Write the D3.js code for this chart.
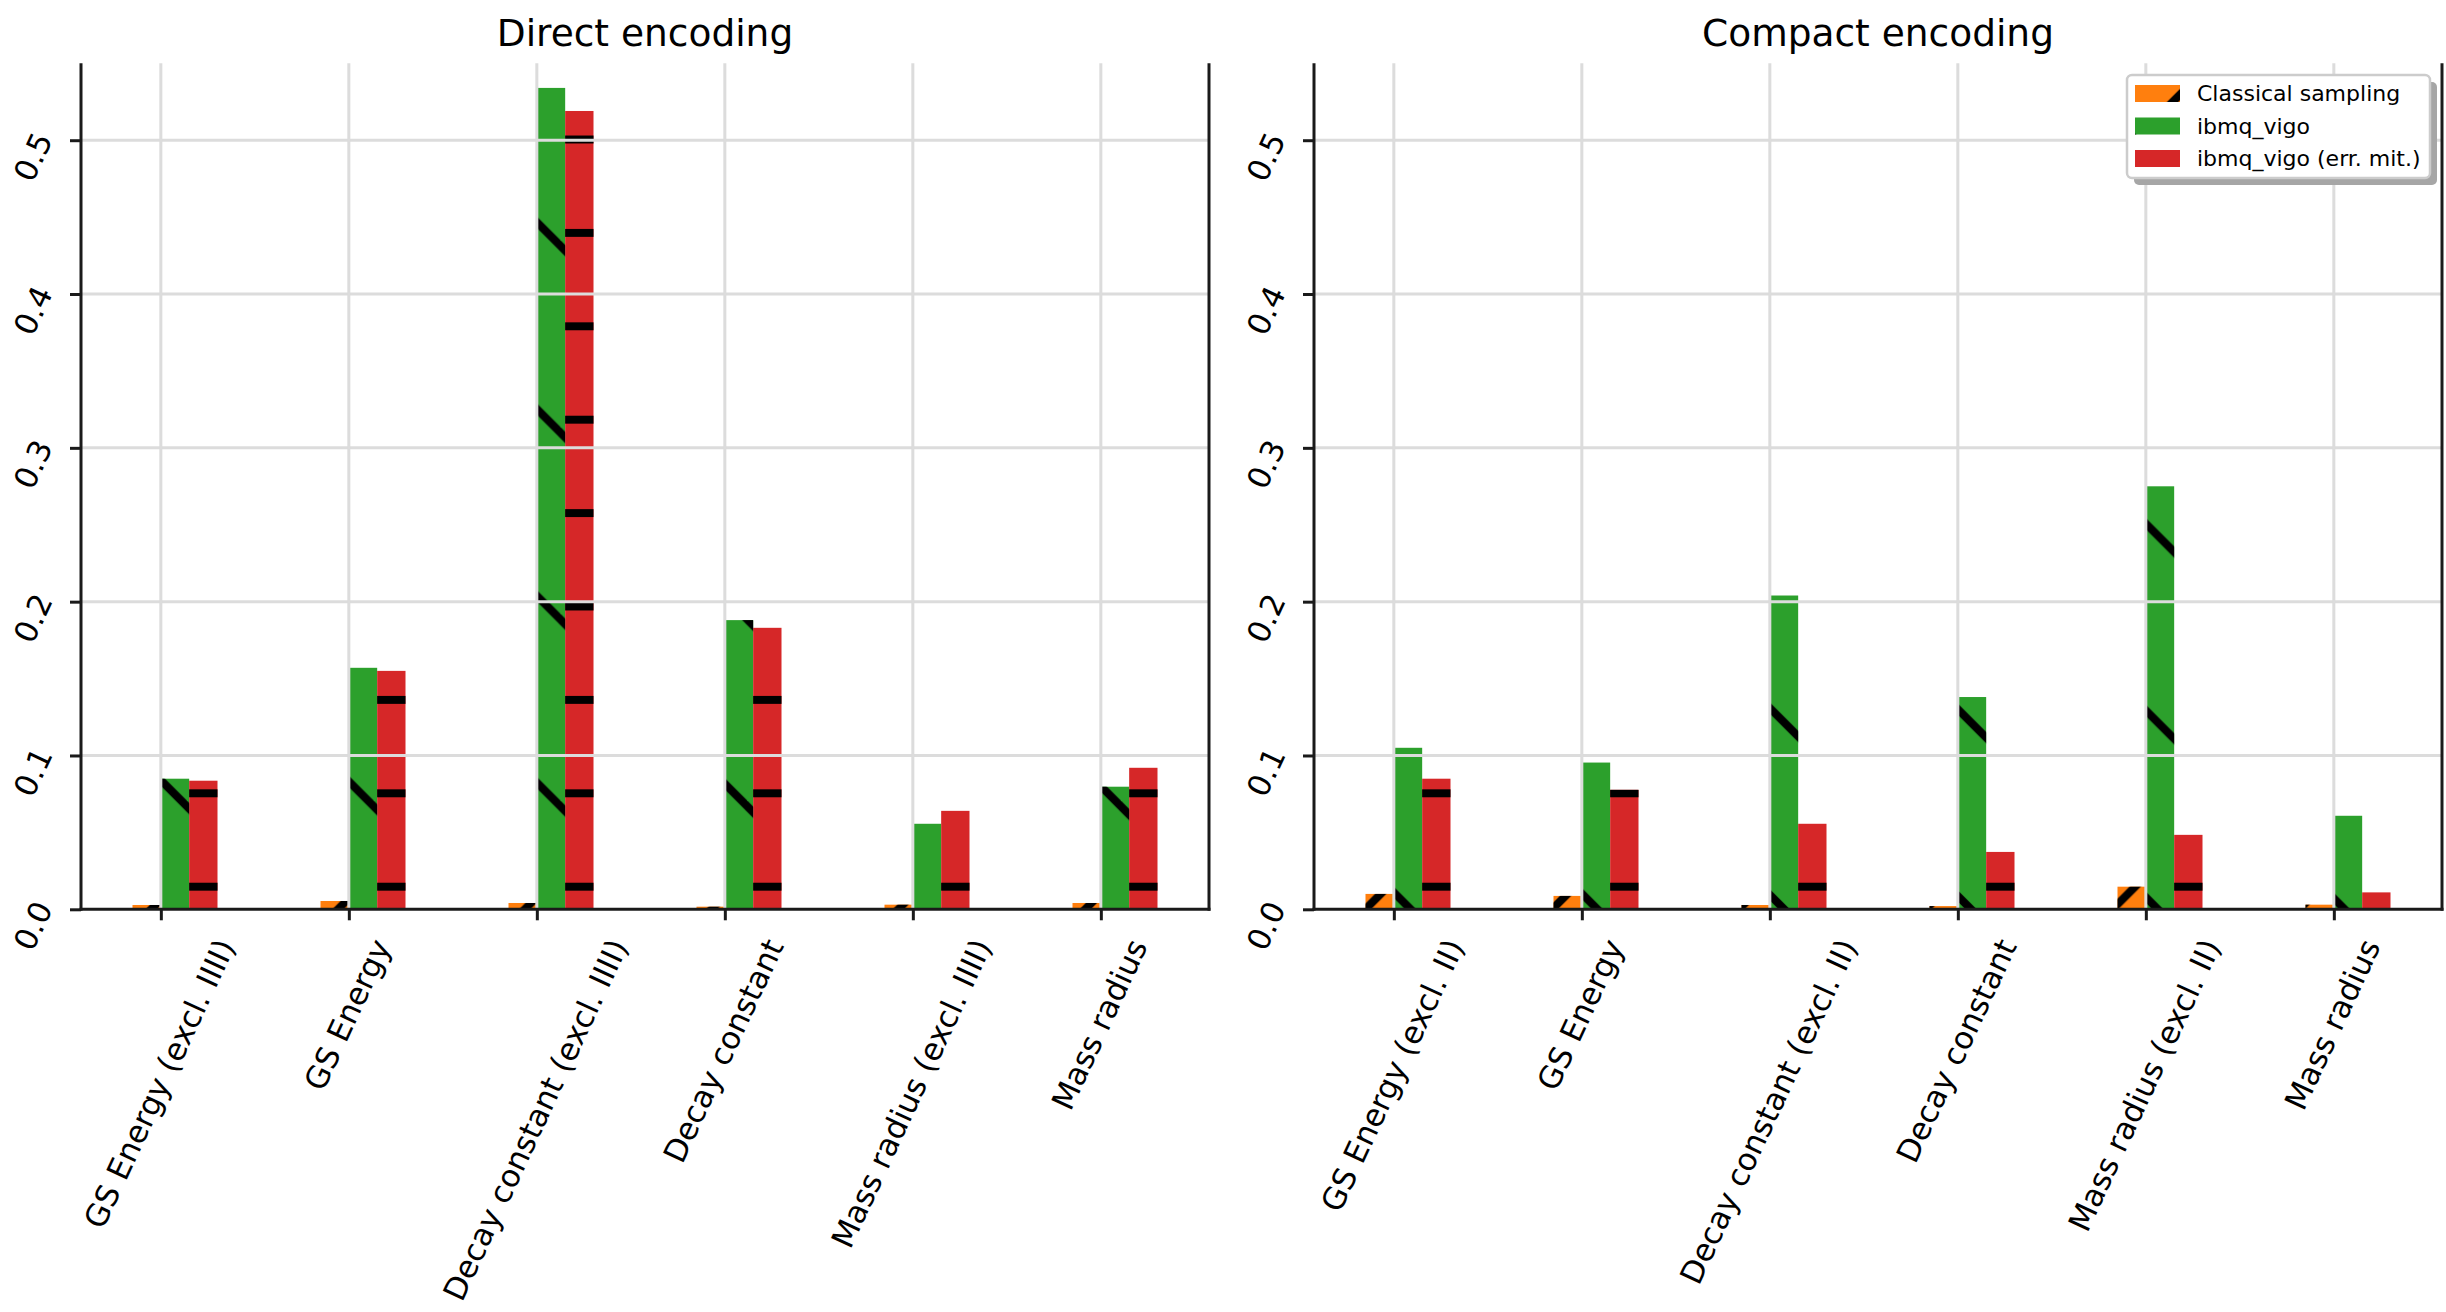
<!DOCTYPE html>
<html>
<head>
<meta charset="utf-8">
<script src="https://cdn.jsdelivr.net/npm/d3@7"></script>
<style>
  html, body { margin: 0; padding: 0; background: #ffffff; }
  svg { display: block; font-family: "DejaVu Sans", sans-serif; }
  svg text { font-family: "DejaVu Sans", sans-serif; }
</style>
</head>
<body>
<svg id="chart" width="2446" height="1312"></svg>
<script>
// ---- data ----
const series = ["Classical sampling", "ibmq_vigo", "ibmq_vigo (err. mit.)"];

const directCategories = [
  "GS Energy (excl. IIII)", "GS Energy",
  "Decay constant (excl. IIII)", "Decay constant",
  "Mass radius (excl. IIII)", "Mass radius"
];
const compactCategories = [
  "GS Energy (excl. II)", "GS Energy",
  "Decay constant (excl. II)", "Decay constant",
  "Mass radius (excl. II)", "Mass radius"
];

const directClassical = [0.0028, 0.0054, 0.0041, 0.0017, 0.0030, 0.0041];
const directVigo      = [0.0849, 0.1570, 0.5340, 0.1880, 0.0556, 0.0797];
const directVigoMit   = [0.0836, 0.1550, 0.5190, 0.1830, 0.0640, 0.0920];

const compactClassical = [0.0100, 0.0087, 0.0028, 0.0021, 0.0147, 0.0030];
const compactVigo      = [0.1050, 0.0954, 0.2040, 0.1380, 0.2750, 0.0608];
const compactVigoMit   = [0.0849, 0.0777, 0.0556, 0.0373, 0.0484, 0.0110];

const yTicks = [0.0, 0.1, 0.2, 0.3, 0.4, 0.5];
const titles = ["Direct encoding", "Compact encoding"];

// ---- styling ----
const colors = ["#ff7f0e", "#2ca02c", "#d62728"];
const hatchIds = ["hatch-fwd", "hatch-back", "hatch-horiz"];
const gridColor = "#dcdcdc";
const spineColor = "#1a1a1a";
const FONT = "DejaVu Sans, sans-serif";
const TICK_FONT = 31;

const svg = d3.select("#chart");

// ---- hatch patterns (anchored to the page so stripes run continuously) ----
const defs = svg.append("defs");
const HATCH_W = 8;
const P1 = 93.4;      // spacing of "/" and "-" stripes
const P2 = 2 * P1;    // spacing of "\" stripes

// "/" stripes
const fwd = defs.append("pattern").attr("id", "hatch-fwd")
  .attr("patternUnits", "userSpaceOnUse")
  .attr("x", 0).attr("y", 33).attr("width", P1).attr("height", P1);
[0, 1, 2].forEach(k => {
  fwd.append("path")
    .attr("d", `M${k * P1 + 12},-12 L-12,${k * P1 + 12}`)
    .attr("stroke", "#000").attr("stroke-width", HATCH_W).attr("fill", "none");
});

// "\" stripes
const back = defs.append("pattern").attr("id", "hatch-back")
  .attr("patternUnits", "userSpaceOnUse")
  .attr("x", 0).attr("y", 59).attr("width", P2).attr("height", P2);
[-1, 0, 1].forEach(k => {
  back.append("path")
    .attr("d", `M-12,${-12 + k * P2} L${P2 + 12},${P2 + 12 + k * P2}`)
    .attr("stroke", "#000").attr("stroke-width", HATCH_W).attr("fill", "none");
});

// "-" stripes
const horiz = defs.append("pattern").attr("id", "hatch-horiz")
  .attr("patternUnits", "userSpaceOnUse")
  .attr("x", 0).attr("y", 46.1).attr("width", 100).attr("height", P1);
[0, 1].forEach(k => {
  horiz.append("path")
    .attr("d", `M-10,${k * P1} H110`)
    .attr("stroke", "#000").attr("stroke-width", HATCH_W).attr("fill", "none");
});

// ---- panels ----
const panels = [
  { title: titles[0], categories: directCategories,
    values: [directClassical, directVigo, directVigoMit], left: 81, right: 1209 },
  { title: titles[1], categories: compactCategories,
    values: [compactClassical, compactVigo, compactVigoMit], left: 1314, right: 2442 }
];

const plotTop = 63.3, plotBottom = 909.3;
const y = d3.scaleLinear().domain([0, 0.55]).range([plotBottom, plotTop]);
const x1 = d3.scaleBand().domain(series).range([-42.5, 42.5]).padding(0);
const tickShift = x1(series[1]);   // ticks sit at the left edge of the middle bar

const toRad = Math.PI / 180;
const ANG = 65;

panels.forEach((p, pi) => {
  const x0 = d3.scalePoint().domain(p.categories).range([p.left, p.right]).padding(0.5);
  const g = svg.append("g").attr("class", "panel-" + pi);

  // bars
  const rows = [];
  p.categories.forEach((c, ci) => {
    series.forEach((s, si) => rows.push({ c, s, si, v: p.values[si][ci] }));
  });
  const bars = g.append("g");
  bars.selectAll("rect.fill").data(rows).join("rect")
    .attr("class", "fill")
    .attr("x", d => x0(d.c) + x1(d.s))
    .attr("width", x1.bandwidth())
    .attr("y", d => y(d.v))
    .attr("height", d => y(0) - y(d.v))
    .attr("fill", d => colors[d.si]);
  bars.selectAll("rect.hatch").data(rows).join("rect")
    .attr("class", "hatch")
    .attr("x", d => x0(d.c) + x1(d.s))
    .attr("width", x1.bandwidth())
    .attr("y", d => y(d.v))
    .attr("height", d => y(0) - y(d.v))
    .attr("fill", d => `url(#${hatchIds[d.si]})`);

  // grid (drawn over the bars)
  const grid = g.append("g");
  grid.selectAll("line.h").data(yTicks.filter(t => t > 0)).join("line")
    .attr("x1", p.left).attr("x2", p.right)
    .attr("y1", d => y(d)).attr("y2", d => y(d))
    .attr("stroke", gridColor).attr("stroke-width", 3);
  grid.selectAll("line.v").data(p.categories).join("line")
    .attr("x1", d => x0(d) + tickShift).attr("x2", d => x0(d) + tickShift)
    .attr("y1", plotTop).attr("y2", plotBottom)
    .attr("stroke", gridColor).attr("stroke-width", 3);

  // spines
  const sp = g.append("g").attr("stroke", spineColor).attr("stroke-width", 3);
  sp.append("line").attr("x1", p.left).attr("x2", p.left).attr("y1", plotTop).attr("y2", plotBottom + 1.5);
  sp.append("line").attr("x1", p.right).attr("x2", p.right).attr("y1", plotTop).attr("y2", plotBottom + 1.5);
  sp.append("line").attr("x1", p.left - 1.5).attr("x2", p.right + 1.5).attr("y1", plotBottom).attr("y2", plotBottom);

  // y axis
  const yAxis = g.append("g").attr("transform", `translate(${p.left},0)`)
    .call(d3.axisLeft(y).tickValues(yTicks).tickFormat(d3.format(".1f")).tickSize(11))
    .attr("font-family", FONT).attr("font-size", TICK_FONT);
  yAxis.select(".domain").remove();
  yAxis.selectAll(".tick line").attr("stroke", spineColor).attr("stroke-width", 3);
  yAxis.selectAll(".tick text")
    .attr("x", null).attr("dy", null)
    .attr("text-anchor", "middle")
    .attr("dominant-baseline", "central")
    .attr("fill", "#000")
    .attr("transform", `translate(-48,16) rotate(-${ANG})`);

  // x axis
  const xAxis = g.append("g").attr("transform", `translate(${tickShift},${plotBottom})`)
    .call(d3.axisBottom(x0).tickSize(11))
    .attr("font-family", FONT).attr("font-size", TICK_FONT);
  xAxis.select(".domain").remove();
  xAxis.selectAll(".tick line").attr("stroke", spineColor).attr("stroke-width", 3);
  xAxis.selectAll(".tick text")
    .attr("y", null).attr("dy", null)
    .attr("text-anchor", "middle")
    .attr("dominant-baseline", "central")
    .attr("fill", "#000")
    .each(function () {
      const w = this.getComputedTextLength();
      const h = 0.93 * TICK_FONT;
      const H = w * Math.sin(ANG * toRad) + h * Math.cos(ANG * toRad);
      const cy = 935 - plotBottom + H / 2;
      d3.select(this).attr("transform", `translate(-2,${cy}) rotate(-${ANG})`);
    });

  // title
  g.append("text")
    .attr("x", (p.left + p.right) / 2).attr("y", 46)
    .attr("text-anchor", "middle")
    .attr("fill", "#000")
    .attr("font-family", FONT)
    .attr("font-size", 37.5)
    .text(p.title);

  // legend on the second panel
  if (pi === 1) {
    const lg = g.append("g").attr("font-family", FONT);
    const bx = 2127, by = 75, bw = 303, bh = 103;
    lg.append("rect").attr("x", bx + 7).attr("y", by + 7).attr("width", bw).attr("height", bh)
      .attr("rx", 5).attr("fill", "#a6a6a6");
    lg.append("rect").attr("x", bx).attr("y", by).attr("width", bw).attr("height", bh)
      .attr("rx", 5).attr("fill", "#ffffff").attr("stroke", "#cccccc").attr("stroke-width", 2.5);
    const rowY = d3.scalePoint().domain(series).range([93.5, 158.5]);
    series.forEach((s, si) => {
      lg.append("rect").attr("x", 2135).attr("y", rowY(s) - 8.5)
        .attr("width", 45).attr("height", 17).attr("fill", colors[si]);
      lg.append("rect").attr("x", 2135).attr("y", rowY(s) - 8.5)
        .attr("width", 45).attr("height", 17).attr("fill", `url(#${hatchIds[si]})`);
      lg.append("text").attr("x", 2197).attr("y", rowY(s))
        .attr("dominant-baseline", "central")
        .attr("fill", "#000")
        .attr("font-size", 22)
        .text(s);
    });
  }
});
</script>
</body>
</html>
